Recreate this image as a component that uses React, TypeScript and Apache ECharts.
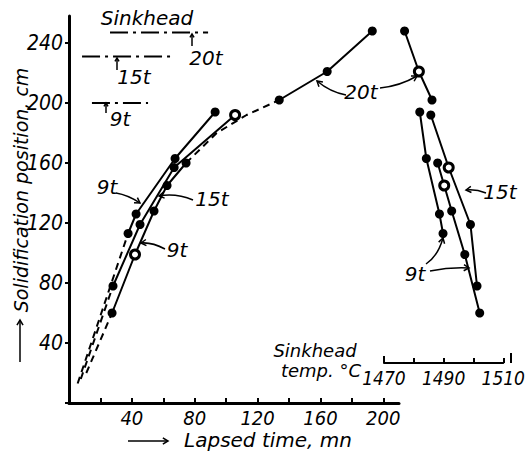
import React, { useEffect, useRef } from "react";
import * as echarts from "echarts";

// ---- data ----
// positions (cm) shared by the time plot and the temperature plot
const pos9a = [113, 126, 163, 194];
const time9a = [37.6, 42.7, 67.5, 93];
const temp9a = [1489.8, 1488.6, 1484.2, 1482.0];

const pos9b = [60, 99, 128, 145, 160];
const time9b = [27.4, 42.0, 54.1, 62.4, 74.5];
const temp9b = [1502.1, 1497.1, 1492.7, 1490.2, 1488.0];

const pos15 = [78, 119, 157, 192];
const time15 = [28, 45.2, 66.9, 105.7];
const temp15 = [1501.2, 1499.0, 1491.7, 1485.7];

const pos20 = [202, 221, 248];
const time20 = [133.8, 164.3, 193];
const temp20 = [1486.1, 1481.7, 1476.9];

// dashed extrapolations
const ext9aTime = [5.5, 37.6];
const ext9aPos = [13, 113];
const ext15Time = [7.5, 28];
const ext15Pos = [16, 78];
const ext9bTime = [11, 27.4];
const ext9bPos = [20, 60];
const ext20Time = [74.5, 94, 113, 133.8];
const ext20Pos = [160, 180, 192, 202];

// sinkhead levels: 9t, 15t, 20t
const sinkheadLevel = [200, 231, 247];
const sinkheadFrom = [14.6, 8.3, 26.1];
const sinkheadTo = [50.3, 65.6, 88.5];

// tick labels
const timeTickLabels = [40, 80, 120, 160, 200];
const posTickLabels = [40, 80, 120, 160, 200, 240];
const tempTickLabels = [1470, 1490, 1510];

// open (ringed) markers, by index
const open9bTime = [1];
const open15Time = [3];
const open9bTemp = [3];
const open20Temp = [1];
const open15Temp = [2];

const NUM_FONT = "'Liberation Sans Narrow', 'DejaVu Sans Condensed', 'Liberation Sans', sans-serif";
const TXT_FONT = "'DejaVu Sans', 'Liberation Sans', sans-serif";

function pts(xs: number[], ys: number[], open: number[] = []) {
  return xs.map((x, i) =>
    open.includes(i)
      ? { value: [x, ys[i]], itemStyle: { color: "#fff", borderColor: "#000", borderWidth: 3 } }
      : [x, ys[i]]
  );
}

function solid(name: string, data: any[], axis: number) {
  return {
    name,
    type: "line",
    xAxisIndex: axis,
    yAxisIndex: axis,
    data,
    symbol: "circle",
    symbolSize: 9,
    itemStyle: { color: "#000" },
    lineStyle: { color: "#000", width: 2 },
    z: 3,
  };
}

function dashed(name: string, data: any[], type: any) {
  return {
    name,
    type: "line",
    xAxisIndex: 0,
    yAxisIndex: 0,
    data,
    symbol: "none",
    lineStyle: { color: "#000", width: 2, type },
    z: 2,
  };
}

function arrow(x1: number, y1: number, cx: number, cy: number, x2: number, y2: number, head = 6) {
  const ang = Math.atan2(y2 - cy, x2 - cx);
  const a1 = ang + Math.PI * 0.83;
  const a2 = ang - Math.PI * 0.83;
  const st = { stroke: "#000", lineWidth: 1.5, fill: "none" };
  return [
    { type: "bezierCurve", shape: { x1, y1, x2, y2, cpx1: cx, cpy1: cy }, style: st },
    {
      type: "polyline",
      shape: {
        points: [
          [x2 + head * Math.cos(a1), y2 + head * Math.sin(a1)],
          [x2, y2],
          [x2 + head * Math.cos(a2), y2 + head * Math.sin(a2)],
        ],
      },
      style: st,
    },
  ];
}

function label(text: string, x: number, y: number, size = 20, font = TXT_FONT) {
  return {
    type: "text",
    x,
    y,
    style: {
      text,
      fill: "#000",
      font: `italic ${size}px ${font}`,
      align: "center",
      verticalAlign: "middle",
    },
  };
}

export default function App() {
  const ref = useRef<HTMLDivElement>(null);

  useEffect(() => {
    if (!ref.current) return;
    const chart = echarts.init(ref.current, null, { renderer: "svg" });

    const sinkSeries = sinkheadLevel.map((lv, i) =>
      dashed("sinkhead" + i, [[sinkheadFrom[i], lv], [sinkheadTo[i], lv]], [18, 5, 3, 5])
    );

    const graphic: any[] = [
      label("Sinkhead", 147, 18, 20),
      label("20t", 206, 58, 20),
      label("15t", 134, 77, 20),
      label("9t", 120, 119, 20),
      label("9t", 107, 187, 20),
      label("15t", 212, 199, 20),
      label("9t", 177, 250, 20),
      label("20t", 361, 92, 20),
      label("15t", 500, 192, 20),
      label("9t", 415, 274, 20),
      label("Sinkhead", 315, 350, 18),
      label("temp. °C", 321, 370, 18),
      label("Lapsed time, mn", 268, 440, 20),
      {
        type: "text",
        x: 21,
        y: 190,
        rotation: Math.PI / 2,
        style: {
          text: "Solidification position, cm",
          fill: "#000",
          font: `italic 19px ${TXT_FONT}`,
          align: "center",
          verticalAlign: "middle",
        },
      },
      ...arrow(128, 441, 148, 441, 168, 441, 6),
      ...arrow(20, 362, 20, 341, 20, 320, 6),
      ...arrow(192, 46, 192, 40, 192, 34, 4),
      ...arrow(117, 70, 117, 64, 117, 58, 4),
      ...arrow(106, 113, 106, 108, 106, 103, 4),
      ...arrow(116, 193, 128, 195, 140, 203),
      ...arrow(193, 200, 176, 193, 159, 196),
      ...arrow(165, 249, 152, 242, 141, 243),
      ...arrow(346, 95, 330, 92, 317, 81),
      ...arrow(380, 88, 400, 86, 417, 76),
      ...arrow(486, 193, 476, 189, 466, 190),
      ...arrow(430, 271, 450, 267, 469, 268),
      ...arrow(426, 264, 438, 256, 443, 238),
      { type: "line", shape: { x1: 384, y1: 363, x2: 384, y2: 356 }, style: { stroke: "#000", lineWidth: 2 } },
      { type: "line", shape: { x1: 511, y1: 363, x2: 511, y2: 353 }, style: { stroke: "#000", lineWidth: 2 } },
    ];

    chart.setOption({
      animation: false,
      backgroundColor: "#fff",
      grid: [
        { left: 69, right: 129, top: 16, bottom: 52 },
        { left: 384, right: 17, top: 16, bottom: 92 },
      ],
      xAxis: [
        {
          gridIndex: 0,
          type: "value",
          min: 0,
          max: 210,
          interval: 20,
          splitLine: { show: false },
          axisLine: { show: true, onZero: false, lineStyle: { color: "#000", width: 3 } },
          axisTick: { show: true, inside: true, length: 5, lineStyle: { color: "#000", width: 2 } },
          axisLabel: {
            formatter: (v: number) => (timeTickLabels.includes(v) ? String(v) : ""),
            color: "#000",
            fontStyle: "italic",
            fontSize: 20,
            fontFamily: NUM_FONT,
            margin: 5,
            showMaxLabel: false,
          },
        },
        {
          gridIndex: 1,
          type: "value",
          min: 1470,
          max: 1510,
          interval: 10,
          splitLine: { show: false },
          axisLine: { show: true, onZero: false, lineStyle: { color: "#000", width: 2 } },
          axisTick: { show: true, inside: true, length: 5, lineStyle: { color: "#000", width: 2 } },
          axisLabel: {
            formatter: (v: number) => (tempTickLabels.includes(v) ? String(v) : ""),
            color: "#000",
            fontStyle: "italic",
            fontSize: 19,
            fontFamily: NUM_FONT,
            margin: 5,
          },
        },
      ],
      yAxis: [
        {
          gridIndex: 0,
          type: "value",
          min: 0,
          max: 258,
          interval: 40,
          splitLine: { show: false },
          axisLine: { show: true, onZero: false, lineStyle: { color: "#000", width: 3 } },
          axisTick: { show: true, inside: false, length: 4, lineStyle: { color: "#000", width: 2 } },
          axisLabel: {
            formatter: (v: number) => (posTickLabels.includes(v) ? String(v) : ""),
            color: "#000",
            fontStyle: "italic",
            fontSize: 21,
            fontFamily: NUM_FONT,
            margin: 6,
            showMaxLabel: false,
          },
        },
        {
          gridIndex: 1,
          type: "value",
          min: 80 / 3,
          max: 258,
          show: false,
        },
      ],
      series: [
        ...sinkSeries,
        dashed("ext9a", pts(ext9aTime, ext9aPos), [7, 5]),
        dashed("ext15", pts(ext15Time, ext15Pos), [7, 5]),
        dashed("ext9b", pts(ext9bTime, ext9bPos), [7, 5]),
        dashed("ext20", pts(ext20Time, ext20Pos), [7, 5]),
        solid("9t a", pts(time9a, pos9a), 0),
        solid("9t b", pts(time9b, pos9b, open9bTime), 0),
        solid("15t", pts(time15, pos15, open15Time), 0),
        solid("20t", pts(time20, pos20), 0),
        solid("9t a temp", pts(temp9a, pos9a), 1),
        solid("9t b temp", pts(temp9b, pos9b, open9bTemp), 1),
        solid("15t temp", pts(temp15, pos15, open15Temp), 1),
        solid("20t temp", pts(temp20, pos20, open20Temp), 1),
      ],
      graphic,
    });

    return () => chart.dispose();
  }, []);

  return (
    <div
      ref={ref}
      style={{ position: "absolute", left: 0, top: 0, width: 528, height: 455, background: "#fff" }}
    />
  );
}
